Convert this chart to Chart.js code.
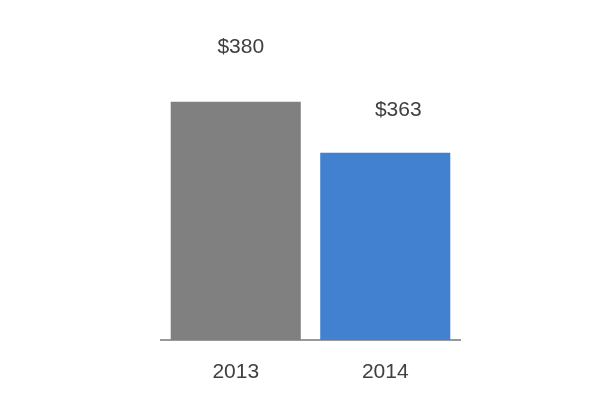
<!DOCTYPE html>
<html>
<head>
<meta charset="utf-8">
<script src="https://cdn.jsdelivr.net/npm/chart.js@4"></script>
<style>
  html, body { margin: 0; padding: 0; background: #fff; }
  #wrap { width: 600px; height: 400px; }
</style>
</head>
<body>
<div id="wrap"><canvas id="chart"></canvas></div>
<script>
const years = ['2013', '2014'];
const values = [380, 363];
const valueLabels = ['$380', '$363'];

const barColors = ['#808080', '#4280d0'];
const textColor = '#404040';
// where the value labels sit relative to the bar top (px)
const labelShift = [{ x: 5, y: 55 }, { x: 13, y: 43 }];

const valueLabelPlugin = {
    id: 'valueLabels',
    afterDatasetsDraw(chart) {
        const ctx = chart.ctx;
        const meta = chart.getDatasetMeta(0);
        ctx.save();
        ctx.font = '21px "Liberation Sans", Arial, sans-serif';
        ctx.fillStyle = textColor;
        ctx.textAlign = 'center';
        ctx.textBaseline = 'middle';
        meta.data.forEach((bar, i) => {
            ctx.fillText(valueLabels[i], bar.x + labelShift[i].x, bar.y - labelShift[i].y);
        });
        ctx.restore();
    }
};

const ctx = document.getElementById('chart').getContext('2d');
new Chart(ctx, {
    type: 'bar',
    data: {
        labels: years,
        datasets: [{
            data: values,
            backgroundColor: barColors,
            borderWidth: 0,
            barPercentage: 0.87,
            categoryPercentage: 1,
        }]
    },
    options: {
        responsive: true,
        maintainAspectRatio: false,
        animation: false,
        layout: {
            padding: { left: 161, right: 140, top: 40, bottom: 0 }
        },
        plugins: {
            legend: { display: false },
            tooltip: { enabled: false },
        },
        scales: {
            x: {
                grid: { display: false, drawTicks: false },
                border: { display: true, color: '#999999', width: 2 },
                ticks: {
                    color: textColor,
                    padding: 20,
                    font: { family: '"Liberation Sans", Arial, sans-serif', size: 21 },
                },
                afterFit(scale) {
                    scale.height = 60;
                },
            },
            y: {
                display: false,
                min: 300.6,
                max: 400.6,
            }
        }
    },
    plugins: [valueLabelPlugin]
});
</script>
</body>
</html>
